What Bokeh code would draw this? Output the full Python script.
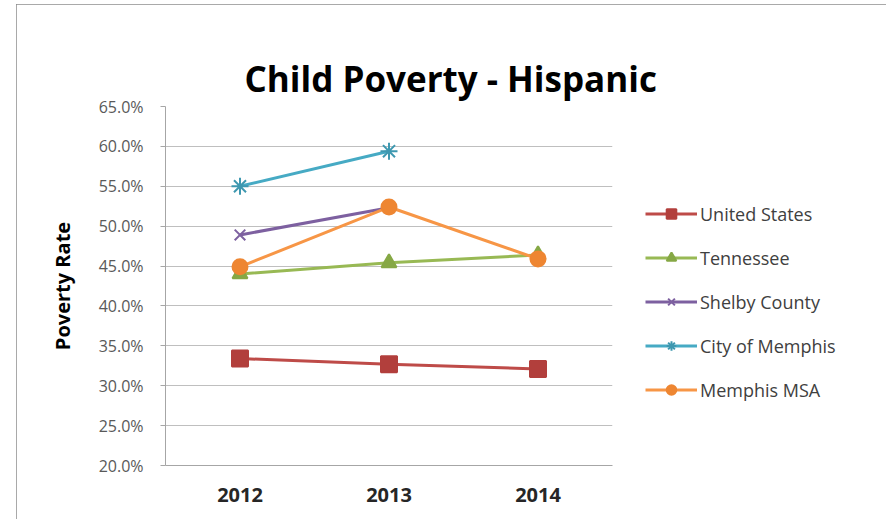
from bokeh.plotting import figure
from bokeh.models import (FactorRange, Range1d, FixedTicker, NumeralTickFormatter,
                          Title)
from bokeh.embed import file_html
from bokeh.resources import INLINE

years = ["2012", "2013", "2014"]
us = [0.334, 0.327, 0.321]
tn = [0.440, 0.454, 0.464]
shelby_years = ["2012", "2013"]
shelby = [0.489, 0.523]
city_years = ["2012", "2013"]
city = [0.550, 0.594]
msa = [0.449, 0.524, 0.459]
y_ticks = [0.20, 0.25, 0.30, 0.35, 0.40, 0.45, 0.50, 0.55, 0.60, 0.65]

FONT = "Open Sans"

p = figure(frame_width=447, frame_height=359, x_range=FactorRange(*years),
           y_range=Range1d(0.20, 0.65), output_backend="svg",
           toolbar_location=None, min_border_left=149, min_border_right=270,
           min_border_top=102, min_border_bottom=56, title_location=None)
p.margin = (4, 0, 0, 16)
p.styles = {"outline": "2px solid #8c8c8c", "outline-offset": "-2px",
            "clip-path": "inset(0px 0px 2px 0px)"}
p.background_fill_color = "white"
p.border_fill_color = "white"
p.outline_line_color = None

title = Title(text="Child Poverty - Hispanic", text_font=FONT,
              text_font_size="35px", text_font_style="bold",
              text_color="#000000", align="left", offset=79, standoff=10)
p.add_layout(title, "above")

# blank spacer panel between the title and the plot area
spacer = Title(text=" ", text_font_size="1px", text_alpha=0, standoff=27)
p.add_layout(spacer, "above")

p.xgrid.grid_line_color = None
p.ygrid.grid_line_color = "#bfbfbf"
p.ygrid.grid_line_width = 1

p.yaxis.ticker = FixedTicker(ticks=y_ticks)
p.yaxis.formatter = NumeralTickFormatter(format="0.0%")
p.yaxis.axis_line_color = "#a6a6a6"
p.yaxis.major_tick_line_color = "#a6a6a6"
p.yaxis.major_tick_out = 5
p.yaxis.major_tick_in = 0
p.yaxis.minor_tick_line_color = None
p.yaxis.major_label_text_font = FONT
p.yaxis.major_label_text_font_size = "16px"
p.yaxis.major_label_text_color = "#595959"
p.yaxis.major_label_standoff = 17
p.yaxis.axis_label = "Poverty Rate"
p.yaxis.axis_label_text_font = FONT
p.yaxis.axis_label_text_font_size = "20px"
p.yaxis.axis_label_text_font_style = "bold"
p.yaxis.axis_label_text_color = "#000000"
p.yaxis.axis_label_standoff = 20

xaxis = p.below[0]
xaxis.axis_line_color = "#a6a6a6"
xaxis.major_tick_line_color = None
xaxis.minor_tick_line_color = None
xaxis.major_label_text_font = FONT
xaxis.major_label_text_font_size = "20px"
xaxis.major_label_text_font_style = "bold"
xaxis.major_label_text_color = "#262626"
xaxis.major_label_standoff = 16

series = [
    ("United States", years, us, "#BE4B48", "#B23F3C", "square", 16),
    ("Tennessee", years, tn, "#98B954", "#86A845", "triangle", 15),
    ("Shelby County", shelby_years, shelby, "#7D60A0", "#7D60A0", "x", 15),
    ("City of Memphis", city_years, city, "#46AAC4", "#3E98B0", "asterisk", 17),
    ("Memphis MSA", years, msa, "#F79646", "#EE8632", "circle", 15),
]

for name, xs, ys, lc, mc, marker, size in series:
    p.line(xs, ys, line_color=lc, line_width=3, legend_label=name)
    p.scatter(xs, ys, marker=marker, size=size, fill_color=mc,
              line_color=mc, line_width=2, legend_label=name)

lg = p.legend[0]
p.center.remove(lg)
p.add_layout(lg, "right")
lg.location = "left"
lg.padding = 0
lg.margin = 33
lg.border_line_color = None
lg.background_fill_alpha = 0
lg.glyph_width = 52
lg.glyph_height = 24
lg.spacing = 20
lg.label_standoff = 3
lg.label_text_font = FONT
lg.label_text_font_size = "18px"
lg.label_text_color = "#404040"
lg.title = " "
lg.title_text_font_size = "1px"
lg.title_text_alpha = 0
lg.title_standoff = 30

open("out.html", "w").write(file_html(p, INLINE))
